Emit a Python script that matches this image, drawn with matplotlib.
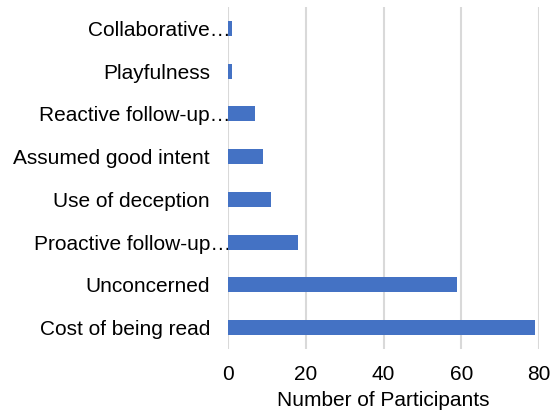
import matplotlib
matplotlib.use("Agg")
import matplotlib.pyplot as plt
from matplotlib.transforms import ScaledTranslation

plt.rcParams['font.family'] = ['Liberation Sans', 'DejaVu Sans']

categories = ["Cost of being read", "Unconcerned", "Proactive follow-up\u2026",
              "Use of deception", "Assumed good intent", "Reactive follow-up\u2026",
              "Playfulness", "Collaborative\u2026"]
values = [79, 59, 18, 11, 9, 7, 1, 1]
xticks = [0, 20, 40, 60, 80]

fig = plt.figure(figsize=(5.55, 4.15), dpi=100)
ax = fig.add_axes([228/555, 1-349/415, (539-228)/555, (349-7)/415])

ypos = list(range(len(categories)))
ax.barh(ypos, values, height=0.35, color="#4472C4", zorder=3)
ax.set_ylim(-0.5, len(categories)-0.5)
ax.set_xlim(0, 80)
ax.set_xticks(xticks)
ax.set_xticklabels([str(t) for t in xticks])
ax.set_yticks(ypos)
ax.set_yticklabels(categories)
ax.tick_params(axis='both', length=0, labelsize=15, colors="#000000")
ax.tick_params(axis='y', pad=13)
ax.tick_params(axis='x', pad=11.5)
for s in ax.spines.values():
    s.set_visible(False)
ax.grid(axis='x', color="#d9d9d9", linewidth=1.5, zorder=0)
ax.set_axisbelow(True)
ax.set_xlabel("Number of Participants", fontsize=15, labelpad=5)

for lab in ax.get_yticklabels():
    if lab.get_text().endswith("\u2026"):
        lab.set_transform(lab.get_transform() + ScaledTranslation(0.21, 0, fig.dpi_scale_trans))

fig.savefig("out.png", dpi=100)
